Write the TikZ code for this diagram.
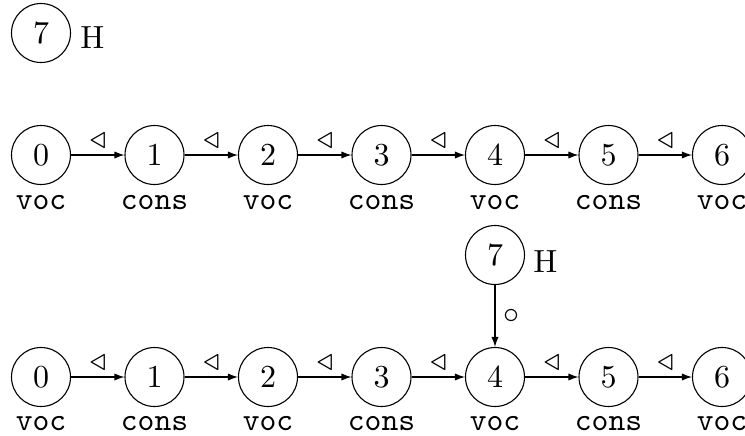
\documentclass[tikz,border=0pt]{standalone}
\usepackage{graphicx}
\usetikzlibrary{arrows.meta}
\newcommand\sctext[1]{\scalebox{1.6}{#1}}
\begin{document}
\begin{tikzpicture}[x=0.5pt,y=-0.5pt,
  st/.style={circle,draw,line width=0.55pt,minimum size=29.5pt,inner sep=0pt,font=\normalsize},
  lab/.style={inner sep=0pt,anchor=base,font=\normalsize\ttfamily},
  hlab/.style={inner sep=0pt,anchor=base west,font=\normalsize},
  elab/.style={inner sep=0pt,font=\normalsize},
  arr/.style={-{Latex[length=5pt,width=3.6pt]},line width=0.55pt}]
\useasboundingbox (0,0) rectangle (745,435);
% lone node
\node[st] (t7) at (41,33) {\sctext{7}};
\node[hlab] (t7h) at (80,48) {\sctext{H}};
% row 1
\foreach \i/\x/\l in {0/41/voc,1/154.5/cons,2/268/voc,3/381.5/cons,4/495/voc,5/608.5/cons,6/722/voc}{
  \node[st] (a\i) at (\x,155) {\sctext{\i}};
  \node[lab] (a\i l) at (\x,209) {\sctext{\l}};
}
\foreach \i [evaluate=\i as \j using int(\i+1)] in {0,...,5}
  \draw[arr] (a\i) -- node[elab,yshift=7pt]{\sctext{$\triangleleft$}} (a\j);
% row 2
\foreach \i/\x/\l in {0/41/voc,1/154.5/cons,2/268/voc,3/381.5/cons,4/495/voc,5/608.5/cons,6/722/voc}{
  \node[st] (b\i) at (\x,377) {\sctext{\i}};
  \node[lab] (b\i l) at (\x,430) {\sctext{\l}};
}
\foreach \i [evaluate=\i as \j using int(\i+1)] in {0,...,5}
  \draw[arr] (b\i) -- node[elab,yshift=7pt]{\sctext{$\triangleleft$}} (b\j);
\node[st] (b7) at (495,255) {\sctext{7}};
\node[hlab] (b7h) at (533,272) {\sctext{H}};
\draw[arr] (b7) -- node[elab,xshift=8pt]{\sctext{$\circ$}} (b4);
\end{tikzpicture}
\end{document}
